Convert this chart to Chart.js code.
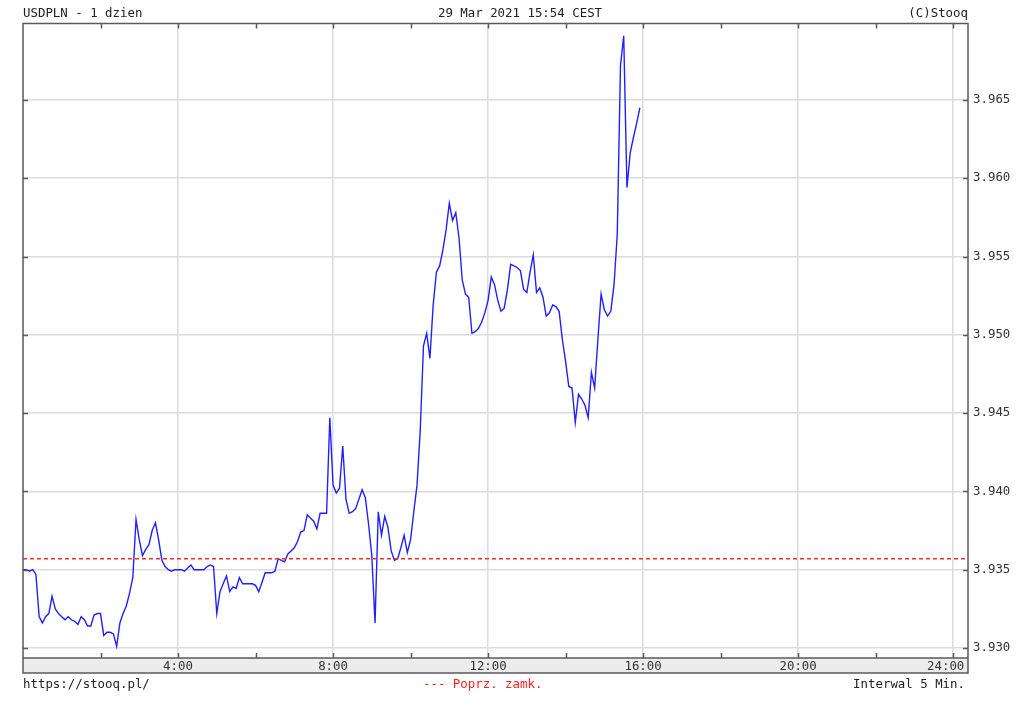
<!DOCTYPE html>
<html><head><meta charset="utf-8">
<script src="https://cdn.jsdelivr.net/npm/chart.js@4.4.1/dist/chart.umd.min.js"></script>
<style>
html,body{margin:0;padding:0;background:#fff;overflow:hidden}
#wrap{position:relative;width:1024px;height:707px}
canvas{position:absolute;left:0;top:0}
.t{position:absolute;font-family:"DejaVu Sans Mono",monospace;font-size:12.4px;line-height:14px;white-space:pre;color:#222}
</style></head><body>
<div id="wrap">
<canvas id="c" width="1024" height="707"></canvas>
<div class="t" style="left:23px;top:6px">USDPLN - 1 dzien</div>
<div class="t" style="left:520px;top:6px;transform:translateX(-50%)">29 Mar 2021 15:54 CEST</div>
<div class="t" style="right:56px;top:6px">(C)Stooq</div>
<div class="t" style="left:23px;top:677px">https://stooq.pl/</div>
<div class="t" style="left:423px;top:677px;color:#ff2020">--- Poprz. zamk.</div>
<div class="t" style="right:59px;top:677px">Interwal 5 Min.</div>
</div>
<script>
// 5-minute USDPLN quotes from 00:00
const intervalMinutes = 5;
const prices = [
 3.9350,3.9350,3.9349,3.9350,3.9347,3.9320,3.9316,3.9320,3.9322,3.9333,
 3.9325,3.9322,3.9320,3.9318,3.9320,3.9318,3.9317,3.9315,3.9320,3.9318,
 3.9314,3.9314,3.9321,3.9322,3.9322,3.9308,3.9310,3.9310,3.9309,3.9301,
 3.9316,3.9322,3.9327,3.9335,3.9345,3.9382,3.9369,3.9359,3.9363,3.9366,
 3.9375,3.9380,3.9369,3.9356,3.9352,3.9350,3.9349,3.9350,3.9350,3.9350,
 3.9349,3.9351,3.9353,3.9350,3.9350,3.9350,3.9350,3.9352,3.9353,3.9352,
 3.9322,3.9336,3.9341,3.9346,3.9336,3.9339,3.9338,3.9345,3.9341,3.9341,
 3.9341,3.9341,3.9340,3.9336,3.9342,3.9348,3.9348,3.9348,3.9349,3.9357,
 3.9356,3.9355,3.9360,3.9362,3.9364,3.9368,3.9374,3.9375,3.9385,3.9383,
 3.9381,3.9376,3.9386,3.9386,3.9386,3.9447,3.9404,3.9399,3.9402,3.9429,
 3.9395,3.9386,3.9387,3.9389,3.9395,3.9401,3.9396,3.9379,3.9359,3.9316,
 3.9387,3.9372,3.9384,3.9377,3.9362,3.9356,3.9357,3.9364,3.9372,3.9361,
 3.9369,3.9387,3.9404,3.9439,3.9493,3.9501,3.9485,3.9519,3.9540,3.9544,
 3.9554,3.9567,3.9584,3.9573,3.9578,3.9562,3.9535,3.9526,3.9524,3.9501,
 3.9502,3.9504,3.9508,3.9514,3.9522,3.9537,3.9532,3.9522,3.9515,3.9517,
 3.9529,3.9545,3.9544,3.9543,3.9541,3.9529,3.9527,3.9540,3.9551,3.9527,
 3.9530,3.9524,3.9512,3.9514,3.9519,3.9518,3.9515,3.9497,3.9483,3.9467,
 3.9466,3.9444,3.9462,3.9459,3.9455,3.9447,3.9476,3.9466,3.9497,3.9526,
 3.9516,3.9512,3.9515,3.9532,3.9564,3.9672,3.9691,3.9594,3.9616,3.9626,
 3.9635,3.9645
];
const prevClose = 3.9357;
const xTickHours = [2,4,6,8,10,12,14,16,18,20,22,24];
const xLabelHours = [4,8,12,16,20,24];
const yTicks = [3.930,3.935,3.940,3.945,3.950,3.955,3.960,3.965];
const xMinMinutes = 0, xMaxMinutes = 1463;
const yMin = 3.92936, yMax = 3.96988;

const series = prices.map((p, i) => ({x: i * intervalMinutes, y: p}));
const closeLine = [{x: xMinMinutes, y: prevClose}, {x: xMaxMinutes, y: prevClose}];

const FONT = {family: '"DejaVu Sans Mono", monospace', size: 12.4};
const BAND = 15;

const framePlugin = {
  id: 'frame',
  beforeDraw(chart) {
    const {ctx, chartArea: a} = chart;
    ctx.save();
    ctx.fillStyle = '#ececec';
    ctx.fillRect(a.left, a.bottom, a.right - a.left, BAND);
    ctx.restore();
  },
  afterDraw(chart) {
    const {ctx, chartArea: a, scales: {x, y}} = chart;
    ctx.save();
    ctx.strokeStyle = '#5a5a5a';
    ctx.lineWidth = 1.5;
    ctx.strokeRect(a.left, a.top, a.right - a.left, a.bottom - a.top + BAND);
    ctx.beginPath();
    ctx.moveTo(a.left, a.bottom); ctx.lineTo(a.right, a.bottom);
    xTickHours.forEach(h => {
      const px = Math.round(x.getPixelForValue(h * 60)) + 0.5;
      ctx.moveTo(px, a.top); ctx.lineTo(px, a.top + 5);
      ctx.moveTo(px, a.bottom); ctx.lineTo(px, a.bottom - 5);
    });
    yTicks.forEach(v => {
      const py = Math.round(y.getPixelForValue(v)) + 0.5;
      ctx.moveTo(a.left, py); ctx.lineTo(a.left + 5, py);
      ctx.moveTo(a.right, py); ctx.lineTo(a.right - 5, py);
    });
    ctx.stroke();
    ctx.restore();
  }
};

new Chart(document.getElementById('c'), {
  type: 'line',
  data: {
    datasets: [
      {data: closeLine, borderColor: '#ff2a2a', borderWidth: 1.4, borderDash: [4, 3], pointRadius: 0, fill: false},
      {data: series, borderColor: '#2020ff', borderWidth: 1.4, pointRadius: 0, tension: 0, fill: false}
    ]
  },
  options: {
    responsive: false,
    devicePixelRatio: 1,
    animation: false,
    events: [],
    layout: {padding: {left: 23, top: 23.5, right: 0, bottom: 0}},
    plugins: {legend: {display: false}, tooltip: {enabled: false}, title: {display: false}},
    scales: {
      x: {
        type: 'linear', min: xMinMinutes, max: xMaxMinutes,
        afterBuildTicks: s => { s.ticks = xTickHours.map(h => ({value: h * 60})); },
        afterFit: s => { s.height = 707 - 658; },
        border: {display: false},
        grid: {
          drawTicks: false, lineWidth: 1.5,
          color: c => (c.tick && xLabelHours.includes(c.tick.value / 60)) ? '#dcdcdc' : 'rgba(0,0,0,0)'
        },
        ticks: {
          autoSkip: false, maxRotation: 0, padding: 1, color: '#333', font: FONT,
          callback: v => xLabelHours.includes(v / 60) ? (v / 60 === 24 ? '24:00  ' : (v / 60) + ':00') : ''
        }
      },
      y: {
        position: 'right', min: yMin, max: yMax,
        afterBuildTicks: s => { s.ticks = yTicks.map(v => ({value: v})); },
        afterFit: s => { s.width = 56; },
        border: {display: false},
        grid: {drawTicks: false, lineWidth: 1.5, color: '#dcdcdc'},
        ticks: {padding: 5, color: '#333', font: FONT, callback: v => v.toFixed(3)}
      }
    }
  },
  plugins: [framePlugin]
});
</script>
</body></html>
